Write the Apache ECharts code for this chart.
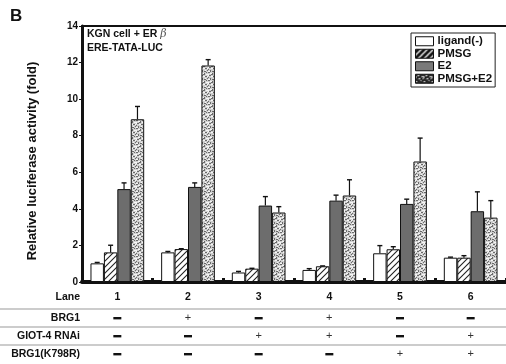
<!DOCTYPE html>
<html>
<head>
<meta charset="utf-8">
<script src="https://cdn.jsdelivr.net/npm/echarts@6/dist/echarts.min.js"></script>
<style>
  html, body { margin: 0; padding: 0; background: #fff; }
  #chart { width: 506px; height: 364px; }
</style>
</head>
<body>
<div id="chart"></div>
<script>
// Luciferase reporter data, fold over control (mean and upper SD)
const lanes = ['1', '2', '3', '4', '5', '6'];
const seriesNames = ['ligand(-)', 'PMSG', 'E2', 'PMSG+E2'];
const ligandNeg = [1.02, 1.62, 0.52, 0.66, 1.57, 1.33];
const ligandNegErr = [0.05, 0.05, 0.06, 0.07, 0.42, 0.03];
const pmsg = [1.62, 1.80, 0.73, 0.86, 1.79, 1.33];
const pmsgErr = [0.39, 0.02, 0.02, 0.02, 0.14, 0.11];
const e2 = [5.08, 5.20, 4.18, 4.45, 4.27, 3.87];
const e2Err = [0.34, 0.22, 0.49, 0.30, 0.26, 1.06];
const pmsgE2 = [8.90, 11.84, 3.80, 4.73, 6.59, 3.52];
const pmsgE2Err = [0.70, 0.32, 0.32, 0.86, 1.28, 0.93];
const yTicks = [0, 2, 4, 6, 8, 10, 12, 14];

// Treatment table beneath the lanes
const rowLabels = ['BRG1', 'GIOT-4 RNAi', 'BRG1(K798R)'];
const brg1 = ['-', '+', '-', '+', '-', '-'];
const giotRnai = ['-', '-', '+', '+', '-', '+'];
const brg1K798R = ['-', '-', '-', '-', '+', '+'];

const FONT = '"Liberation Sans", Arial, sans-serif';
const values = [ligandNeg, pmsg, e2, pmsgE2];
const errors = [ligandNegErr, pmsgErr, e2Err, pmsgE2Err];
const CAT_GAP = 0.24;

function hatchPattern(bg, fg, w) {
  const c = document.createElement('canvas');
  c.width = 6; c.height = 6;
  const g = c.getContext('2d');
  g.fillStyle = bg; g.fillRect(0, 0, 6, 6);
  g.strokeStyle = fg; g.lineWidth = w;
  g.beginPath();
  g.moveTo(-1, 7); g.lineTo(7, -1);
  g.moveTo(-4, 4); g.lineTo(4, -4);
  g.moveTo(2, 10); g.lineTo(10, 2);
  g.stroke();
  return c;
}
// Coarse speckle tile: light ground with dark and white flecks
function stipplePattern(bg, dark, light) {
  const c = document.createElement('canvas');
  c.width = 8; c.height = 8;
  const g = c.getContext('2d');
  g.fillStyle = bg; g.fillRect(0, 0, 8, 8);
  g.fillStyle = dark;
  [[0,0,2,1],[4,1,1,2],[6,0,1,1],[1,3,2,1],[5,4,2,1],[2,6,1,2],[7,6,1,1],[0,5,1,1],[4,7,2,1],[3,2,1,1]]
    .forEach(([x, y, w, h]) => g.fillRect(x, y, w, h));
  g.fillStyle = light;
  [[2,1,2,1],[6,2,2,1],[0,2,1,2],[3,4,2,1],[5,6,1,1],[0,7,2,1],[7,4,1,1]]
    .forEach(([x, y, w, h]) => g.fillRect(x, y, w, h));
  return c;
}

const fills = [
  '#ffffff',
  { image: hatchPattern('#fff', '#222', 1.1), repeat: 'repeat' },
  '#6d6d6d',
  { image: stipplePattern('#cfcfcf', '#6a6a6a', '#f6f6f6'), repeat: 'repeat' }
];
const legendFills = [
  '#ffffff',
  { image: hatchPattern('#111', '#fff', 1.3), repeat: 'repeat' },
  '#7a7a7a',
  { image: stipplePattern('#333', '#111', '#dddddd'), repeat: 'repeat' }
];

const barSeries = seriesNames.map((name, s) => ({
  name: name,
  type: 'bar',
  data: values[s],
  barGap: '0%',
  barCategoryGap: (CAT_GAP * 100) + '%',
  itemStyle: { color: fills[s], borderColor: '#111', borderWidth: 1 },
  z: 3
}));

// Upper error whiskers, positioned on the bar slots of each category
const errData = [];
for (let s = 0; s < 4; s++) {
  for (let i = 0; i < lanes.length; i++) {
    errData.push([i, values[s][i], errors[s][i], s]);
  }
}
const errSeries = {
  type: 'custom',
  name: 'err',
  data: errData,
  z: 4,
  silent: true,
  encode: { x: 0, y: 1 },
  renderItem: function (params, api) {
    const cat = api.value(0), v = api.value(1), e = api.value(2), s = api.value(3);
    const band = api.size([1, 0])[0];
    const bw = band * (1 - CAT_GAP) / 4;
    const base = api.coord([cat, v]);
    const top = api.coord([cat, v + e]);
    const x = base[0] - 2 * bw + (s + 0.5) * bw;
    const cap = 2.5;
    return {
      type: 'group',
      children: [
        { type: 'line', shape: { x1: x, y1: base[1], x2: x, y2: top[1] }, style: { stroke: '#111', lineWidth: 1.2 } },
        { type: 'line', shape: { x1: x - cap, y1: top[1], x2: x + cap, y2: top[1] }, style: { stroke: '#111', lineWidth: 1.4 } }
      ]
    };
  }
};

const chart = echarts.init(document.getElementById('chart'), null, { renderer: 'canvas' });
const GRID = { left: 82, top: 26, width: 430, height: 256 };

chart.setOption({
  animation: false,
  backgroundColor: '#fff',
  textStyle: { fontFamily: FONT },
  grid: Object.assign({ containLabel: false, show: false }, GRID),
  legend: {
    orient: 'vertical',
    left: 411, top: 33,
    itemWidth: 18, itemHeight: 9,
    itemGap: 0,
    padding: [2, 3, 2, 4],
    borderColor: '#222', borderWidth: 1,
    backgroundColor: '#fff',
    data: seriesNames.map((n, s) => ({
      name: n,
      icon: 'rect',
      itemStyle: { color: legendFills[s], borderColor: '#111', borderWidth: 1 }
    })),
    textStyle: { fontFamily: FONT, fontWeight: 'bold', fontSize: 11.5, lineHeight: 12.5, color: '#111', padding: [0, 0, 0, -1] }
  },
  xAxis: [{
    type: 'category',
    data: lanes,
    position: 'bottom',
    axisLine: { lineStyle: { color: '#111', width: 4 } },
    axisTick: { show: true, inside: true, length: 4, lineStyle: { color: '#111', width: 3 } },
    axisLabel: { show: false },
    splitLine: { show: false }
  }, {
    type: 'category',
    data: lanes,
    position: 'top',
    axisLine: { lineStyle: { color: '#111', width: 2 } },
    axisTick: { show: false },
    axisLabel: { show: false }
  }],
  yAxis: {
    type: 'value',
    min: yTicks[0], max: yTicks[yTicks.length - 1], interval: 2,
    axisLine: { show: true, lineStyle: { color: '#111', width: 3 } },
    axisTick: { show: true, length: 3, lineStyle: { color: '#111', width: 1 } },
    axisLabel: { fontFamily: FONT, fontWeight: 'bold', fontSize: 10, color: '#111', margin: 4 },
    splitLine: { show: false }
  },
  series: barSeries.concat([errSeries])
});

// Panel letter, axis title, inset text and the treatment table
const graphics = [
  { type: 'text', left: 10, top: 8, style: { text: 'B', font: 'bold 17px ' + FONT, fill: '#111' } },
  {
    type: 'text', x: 32, y: 161, rotation: Math.PI / 2,
    style: {
      text: 'Relative luciferase activity (fold)',
      font: 'bold 13px ' + FONT, fill: '#111',
      textAlign: 'center', textVerticalAlign: 'middle'
    }
  },
  {
    type: 'text', left: 87, top: 29,
    style: {
      text: '{b|KGN cell + ER }{g|β}\n{b|ERE-TATA-LUC}',
      rich: {
        b: { font: 'bold 10.5px ' + FONT, fill: '#111', lineHeight: 14 },
        g: { font: 'italic 11px "DejaVu Serif", serif', fill: '#555', lineHeight: 14 }
      }
    }
  }
];

const rowY = [297, 318, 336, 354];
const lineY = [309, 327, 345];
lineY.forEach(y => graphics.push({
  type: 'line', shape: { x1: 0, y1: y, x2: 506, y2: y },
  style: { stroke: '#999', lineWidth: 1 }
}));
const labels = ['Lane'].concat(rowLabels);
labels.forEach((t, r) => graphics.push({
  type: 'text', x: 80, y: rowY[r],
  style: { text: t, font: 'bold 10.5px ' + FONT, fill: '#111', textAlign: 'right', textVerticalAlign: 'middle' }
}));
const rows = [brg1, giotRnai, brg1K798R];
lanes.forEach((lane, i) => {
  const cx = chart.convertToPixel({ xAxisIndex: 0 }, i);
  graphics.push({
    type: 'text', x: cx, y: rowY[0],
    style: { text: lane, font: 'bold 10.5px ' + FONT, fill: '#111', textAlign: 'center', textVerticalAlign: 'middle' }
  });
  rows.forEach((row, r) => {
    if (row[i] === '-') {
      graphics.push({ type: 'rect', shape: { x: cx - 4, y: rowY[r + 1] - 1, width: 8, height: 2.4 }, style: { fill: '#111' } });
    } else {
      graphics.push({
        type: 'text', x: cx, y: rowY[r + 1],
        style: { text: '+', font: '11px ' + FONT, fill: '#333', textAlign: 'center', textVerticalAlign: 'middle' }
      });
    }
  });
});
chart.setOption({ graphic: graphics });
</script>
</body>
</html>
